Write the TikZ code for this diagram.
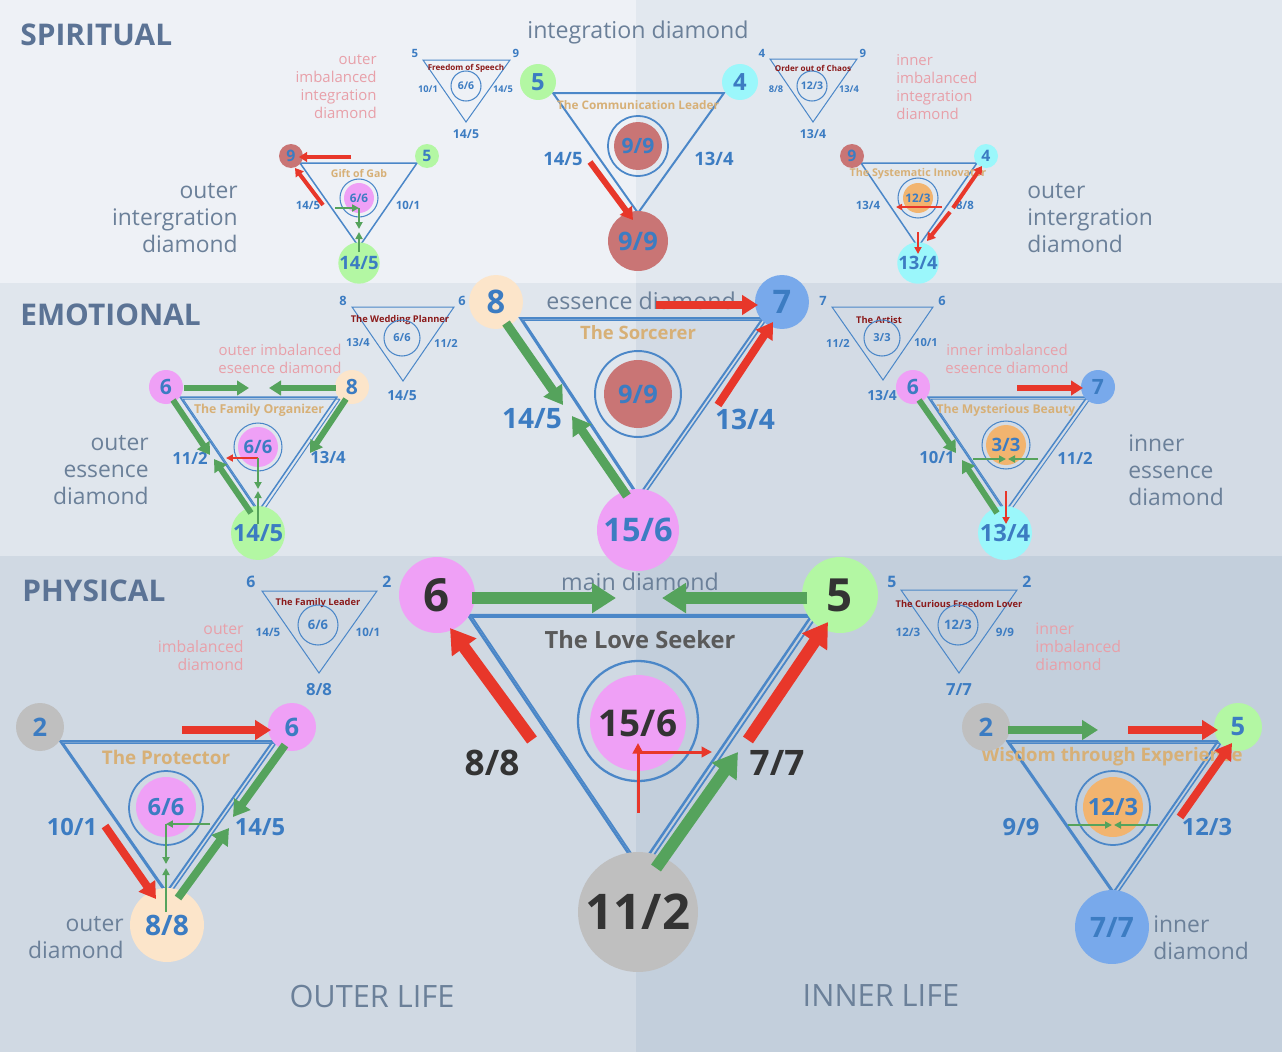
\documentclass[tikz,border=0pt]{standalone}
\usepackage{fontspec}
\setmainfont{Open Sans}
\usetikzlibrary{arrows.meta}

% background bands
\definecolor{bgSL}{HTML}{EEF1F6}
\definecolor{bgSR}{HTML}{E2E8EF}
\definecolor{bgEL}{HTML}{E0E6ED}
\definecolor{bgER}{HTML}{D3DBE5}
\definecolor{bgPL}{HTML}{D0D9E3}
\definecolor{bgPR}{HTML}{C3CFDC}
% texts and lines
\definecolor{cHead}{HTML}{5B7395}
\definecolor{cGrey}{HTML}{6B8099}
\definecolor{cPink}{HTML}{E8A0A9}
\definecolor{cTan}{HTML}{D7B077}
\definecolor{cTag}{HTML}{8B1A1A}
\definecolor{cBlue}{HTML}{3C7CC2}
\definecolor{cDark}{HTML}{333333}
\definecolor{cLove}{HTML}{5A5A5A}
\definecolor{cLine}{HTML}{4B87C8}
\definecolor{cRed}{HTML}{E8372A}
\definecolor{cGreen}{HTML}{55A35C}
% circle fills
\definecolor{fRed}{HTML}{C97575}
\definecolor{fGreen}{HTML}{B3F7A3}
\definecolor{fCyan}{HTML}{9BF7FB}
\definecolor{fPeach}{HTML}{FCE5CA}
\definecolor{fBlue}{HTML}{78A9EB}
\definecolor{fPink}{HTML}{EFA0F6}
\definecolor{fGrey}{HTML}{BFBFBF}
\definecolor{fOrange}{HTML}{F2B46F}

\newcommand\fsz[2]{\fontsize{#1pt}{#2pt}\selectfont}

\begin{document}
\begin{tikzpicture}[x=0.02cm, y=-0.02cm,
    ball/.style={circle, inner sep=0pt, minimum size=#1*0.04cm},
    hub/.style={circle, draw=cLine, line width=0.6pt, inner sep=0pt, minimum size=#1*0.04cm},
    num/.style={text=cBlue, inner sep=0pt, font=\bfseries\fsz{#1}{#1}},
    title/.style={text=cTan, inner sep=0pt, font=\bfseries\fsz{#1}{#1}},
    tag/.style={text=cTag, inner sep=0pt, font=\bfseries\fsz{#1}{#1}},
    zone/.style={text=cGrey, inner sep=0pt, font=\fsz{#1}{#1}},
    side/.style={text=cGrey, inner sep=0pt, font=\fsz{13}{15.3}},
    note/.style={text=cPink, inner sep=0pt, font=\fsz{8.5}{10.2}},
    head/.style={text=cHead, inner sep=0pt, anchor=west, font=\bfseries\fsz{17}{17}},
    tri/.style={draw=cLine, line width=#1*0.02cm},
    fat/.style={line width=#1*0.02cm, -{Triangle[length=0pt 2 0, width=0pt 2.4 0]}},
    slim/.style={line width=0.04cm, -{Triangle[length=0pt 3.5 0, width=0pt 3.5 0]}}
]
\useasboundingbox (0,0) rectangle (1282,1052);

% Bands
\fill[bgSL] (0,0) rectangle (636,283);
\fill[bgSR] (636,0) rectangle (1282,283);
\fill[bgEL] (0,283) rectangle (636,556);
\fill[bgER] (636,283) rectangle (1282,556);
\fill[bgPL] (0,556) rectangle (636,1052);
\fill[bgPR] (636,556) rectangle (1282,1052);

% Section headers
\node[head] (spirit) at (20,35) {SPIRITUAL};
\node[head] (emotion) at (20,315) {EMOTIONAL};
\node[head] (phys) at (22,591) {PHYSICAL};
\node[zone=13.2] (intLbl) at (638,32) {integration diamond};
\node[zone=13.2] (essLbl) at (641,301) {essence diamond};
\node[zone=13.2] (mainLbl) at (640,582) {main diamond};
\node[zone=17.5] (outerLife) at (372,996) {OUTER LIFE};
\node[zone=17.5] (innerLife) at (881,996) {INNER LIFE};

%%%%%%%%%%%%%%%% SPIRITUAL %%%%%%%%%%%%%%%%
% integration diamond
\draw[tri=2] (553,93) -- (724,93) -- (638,213) -- cycle;
\node[title=6.7] (smT) at (638,105) {The Communication Leader};
\node[hub=30, line width=1pt] (smHub) at (638,146) {};
\node[ball=24, fill=fRed, num=12] (smCore) at (638,146) {9/9};
\node[ball=18, fill=fGreen, num=13.5] (sm5) at (538,82) {5};
\node[ball=18, fill=fCyan, num=13.5] (sm4) at (740,82) {4};
\node[ball=30, fill=fRed, num=14.5] (sm99) at (638,241) {9/9};
\node[num=10.5] (smL) at (563,159) {14/5};
\node[num=10.5] (smR) at (714,159) {13/4};

% Freedom of Speech
\draw[tri=1] (423,60) -- (510,60) -- (466,122) -- cycle;
\node[num=6.5] (fs5) at (415,53) {5};
\node[num=6.5] (fs9) at (516,53) {9};
\node[tag=4.6] (fsT) at (466,68) {Freedom of Speech};
\node[hub=15] (fsHub) at (466,86) {};
\node[num=6] (fsCore) at (466,86) {6/6};
\node[num=5.3] (fsL) at (428,89) {10/1};
\node[num=5.3] (fsR) at (503,89) {14/5};
\node[num=7] (fsB) at (466,134) {14/5};
\node[note, anchor=east, align=right] (fsNote) at (377,87) {outer\\imbalanced\\integration\\diamond};

% outer integration diamond
\draw[tri=1.5] (300,163) -- (417,163) -- (359,247) -- cycle;
\node[title=6] (soT) at (359,174) {Gift of Gab};
\node[hub=19] (soHub) at (359,198) {};
\node[ball=15, fill=fPink, num=6.7] (soCore) at (359,198) {6/6};
\node[ball=12, fill=fRed, num=9] (so9) at (291,156) {9};
\node[ball=12, fill=fGreen, num=9] (so5) at (427,156) {5};
\node[ball=19, fill=fGreen, num=10.5] (so145) at (359,263) {14/5};
\node[num=6.5] (soL) at (308,205) {14/5};
\node[num=6.5] (soR) at (408,205) {10/1};
\node[side, anchor=east, align=right] (soSide) at (238,218) {outer\\intergration\\diamond};

% Order out of Chaos
\draw[tri=1] (770,59) -- (857,59) -- (813,122) -- cycle;
\node[num=6.5] (oc4) at (762,53) {4};
\node[num=6.5] (oc9) at (863,53) {9};
\node[tag=4.6] (ocT) at (813,68) {Order out of Chaos};
\node[hub=15] (ocHub) at (812,86) {};
\node[num=6] (ocCore) at (812,86) {12/3};
\node[num=5.3] (ocL) at (776,89) {8/8};
\node[num=5.3] (ocR) at (849,89) {13/4};
\node[num=7] (ocB) at (813,134) {13/4};
\node[note, anchor=west, align=left] (ocNote) at (896,87) {inner\\imbalanced\\integration\\diamond};

% inner integration diamond
\draw[tri=1.5] (861,163) -- (977,163) -- (918,247) -- cycle;
\node[title=6.1] (siT) at (918,174) {The Systematic Innovator};
\node[hub=20] (siHub) at (918,198) {};
\node[ball=15, fill=fOrange, num=6.7] (siCore) at (918,198) {12/3};
\node[ball=12, fill=fRed, num=9] (si9) at (852,156) {9};
\node[ball=12, fill=fCyan, num=9] (si4) at (986,156) {4};
\node[ball=19, fill=fCyan, num=10.5] (si134) at (918,263) {13/4};
\node[num=6.5] (siL) at (868,205) {13/4};
\node[num=6.5] (siR) at (965,205) {8/8};
\node[side, anchor=west, align=left] (siSide) at (1027,218) {outer\\intergration\\diamond};

%%%%%%%%%%%%%%%% EMOTIONAL %%%%%%%%%%%%%%%%
% essence diamond
\draw[tri=2] (520,318) -- (763,318) -- (638,497) -- cycle;
\draw[tri=1.5, shift={(3,2)}] (520,318) -- (763,318) -- (638,497) -- cycle;
\node[title=10.5] (emT) at (638,333) {The Sorcerer};
\node[hub=43, line width=1.1pt] (emHub) at (638,394) {};
\node[ball=34, fill=fRed, num=14.5] (emCore) at (638,394) {9/9};
\node[ball=27, fill=fPeach, num=18.5] (em8) at (496,302) {8};
\node[ball=27, fill=fBlue, num=18.5] (em7) at (782,302) {7};
\node[ball=41, fill=fPink, num=18.5] (em156) at (638,530) {15/6};
\node[num=16] (emL) at (532,419) {14/5};
\node[num=16] (emR) at (745,419) {13/4};

% The Wedding Planner
\draw[tri=1] (352,307) -- (454,307) -- (403,381) -- cycle;
\node[num=7.3] (wp8) at (343,301) {8};
\node[num=7.3] (wp6) at (462,301) {6};
\node[tag=5.3] (wpT) at (400,320) {The Wedding Planner};
\node[hub=18] (wpHub) at (402,338) {};
\node[num=6.3] (wpCore) at (402,338) {6/6};
\node[num=6.3] (wpL) at (358,343) {13/4};
\node[num=6.3] (wpR) at (446,343) {11/2};
\node[num=7.9] (wpB) at (402,396) {14/5};
\node[note, align=center] (wpNote) at (280,359) {outer imbalanced\\eseence diamond};

% outer essence diamond
\draw[tri=1.5] (180,397) -- (337,397) -- (258,512) -- cycle;
\draw[tri=1, shift={(3,2)}] (180,397) -- (337,397) -- (258,512) -- cycle;
\node[title=7] (eoT) at (259,410) {The Family Organizer};
\node[hub=24] (eoHub) at (258,447) {};
\node[ball=20, fill=fPink, num=10.5] (eoCore) at (258,447) {6/6};
\node[ball=17, fill=fPink, num=12] (eo6) at (166,387) {6};
\node[ball=17, fill=fPeach, num=12] (eo8) at (352,387) {8};
\node[ball=27, fill=fGreen, num=13.5] (eo145) at (258,533) {14/5};
\node[num=9.5] (eoL) at (190,458) {11/2};
\node[num=9.5] (eoR) at (328,458) {13/4};
\node[side, anchor=east, align=right] (eoSide) at (149,470) {outer\\essence\\diamond};

% The Artist
\draw[tri=1] (832,307) -- (933,307) -- (883,380) -- cycle;
\node[num=7.3] (ar7) at (823,301) {7};
\node[num=7.3] (ar6) at (942,301) {6};
\node[tag=5.3] (arT) at (879,320) {The Artist};
\node[hub=18] (arHub) at (882,338) {};
\node[num=6.3] (arCore) at (882,338) {3/3};
\node[num=6.3] (arL) at (838,343) {11/2};
\node[num=6.3] (arR) at (926,343) {10/1};
\node[num=7.9] (arB) at (882,396) {13/4};
\node[note, align=center] (arNote) at (1007,359) {inner imbalanced\\eseence diamond};

% inner essence diamond
\draw[tri=1.5] (928,397) -- (1087,397) -- (1005,512) -- cycle;
\draw[tri=1, shift={(3,2)}] (928,397) -- (1087,397) -- (1005,512) -- cycle;
\node[title=6.9] (eiT) at (1006,410) {The Mysterious Beauty};
\node[hub=24] (eiHub) at (1006,445) {};
\node[ball=20, fill=fOrange, num=10.5] (eiCore) at (1006,445) {3/3};
\node[ball=17, fill=fPink, num=12] (ei6) at (913,387) {6};
\node[ball=17, fill=fBlue, num=12] (ei7) at (1098,387) {7};
\node[ball=27, fill=fCyan, num=13.5] (ei134) at (1005,533) {13/4};
\node[num=9.5] (eiL) at (937,458) {10/1};
\node[num=9.5] (eiR) at (1075,458) {11/2};
\node[side, anchor=west, align=left] (eiSide) at (1128,470) {inner\\essence\\diamond};

%%%%%%%%%%%%%%%% PHYSICAL %%%%%%%%%%%%%%%%
% main diamond
\draw[tri=2.5] (468,615) -- (812,615) -- (639,869) -- cycle;
\draw[tri=1.8, shift={(4,2)}] (468,615) -- (812,615) -- (639,869) -- cycle;
\node[text=cLove, inner sep=0pt, font=\bfseries\fsz{13.5}{13.5}] (pmT) at (640,640) {The Love Seeker};
\node[hub=60, line width=1.3pt] (pmHub) at (638,721) {};
\node[ball=48, fill=fPink, num=21, text=cDark] (pmCore) at (638,723) {15/6};
\node[ball=38, fill=fPink, num=26, text=cDark] (pm6) at (437,595) {6};
\node[ball=38, fill=fGreen, num=26, text=cDark] (pm5) at (840,595) {5};
\node[ball=60, fill=fGrey, num=28, text=cDark] (pm112) at (638,912) {11/2};
\node[num=20, text=cDark] (pmL) at (492,763) {8/8};
\node[num=20, text=cDark] (pmR) at (777,763) {7/7};

% The Family Leader
\draw[tri=1] (262,591) -- (377,591) -- (319,673) -- cycle;
\node[num=9] (fl6) at (251,582) {6};
\node[num=9] (fl2) at (387,582) {2};
\node[tag=5.3] (flT) at (318,603) {The Family Leader};
\node[hub=20] (flHub) at (318,625) {};
\node[num=7.4] (flCore) at (318,625) {6/6};
\node[num=6.6] (flL) at (268,632) {14/5};
\node[num=6.6] (flR) at (368,632) {10/1};
\node[num=9.5] (flB) at (319,690) {8/8};
\node[note, anchor=east, align=right, font=\fsz{9}{10.2}] (flNote) at (244,647) {outer\\imbalanced\\diamond};

% outer diamond
\draw[tri=2] (60,741) -- (273,741) -- (166,893) -- cycle;
\draw[tri=1.5, shift={(3,2)}] (60,741) -- (273,741) -- (166,893) -- cycle;
\node[title=10.7] (poT) at (166,757) {The Protector};
\node[hub=37, line width=1pt] (poHub) at (166,808) {};
\node[ball=30, fill=fPink, num=13.5] (poCore) at (166,807) {6/6};
\node[ball=24, fill=fGrey, num=14.5] (po2) at (40,727) {2};
\node[ball=24, fill=fPink, num=14.5] (po6) at (292,727) {6};
\node[ball=37, fill=fPeach, num=16] (po88) at (167,925) {8/8};
\node[num=13.5] (poL) at (72,827) {10/1};
\node[num=13.5] (poR) at (260,827) {14/5};
\node[side, anchor=east, align=right] (poSide) at (124,938) {outer\\diamond};

% The Curious Freedom Lover
\draw[tri=1] (901,590) -- (1017,590) -- (959,673) -- cycle;
\node[num=9] (cf5) at (892,582) {5};
\node[num=9] (cf2) at (1027,582) {2};
\node[tag=5.3] (cfT) at (959,604) {The Curious Freedom Lover};
\node[hub=20] (cfHub) at (958,625) {};
\node[num=7.4] (cfCore) at (958,625) {12/3};
\node[num=6.6] (cfL) at (908,632) {12/3};
\node[num=6.6] (cfR) at (1005,632) {9/9};
\node[num=9.5] (cfB) at (959,690) {7/7};
\node[note, anchor=west, align=left, font=\fsz{9}{10.2}] (cfNote) at (1035,647) {inner\\imbalanced\\diamond};

% inner diamond
\draw[tri=2] (1007,741) -- (1218,741) -- (1113,893) -- cycle;
\draw[tri=1.5, shift={(3,2)}] (1007,741) -- (1218,741) -- (1113,893) -- cycle;
\node[title=10.6] (piT) at (1112,757) {Wisdom through Experience};
\node[hub=37, line width=1pt] (piHub) at (1113,808) {};
\node[ball=30, fill=fOrange, num=13.5] (piCore) at (1113,807) {12/3};
\node[ball=24, fill=fGrey, num=14.5] (pi2) at (986,727) {2};
\node[ball=24, fill=fGreen, num=14.5] (pi5) at (1238,727) {5};
\node[ball=37, fill=fBlue, num=16] (pi77) at (1112,927) {7/7};
\node[num=13.5] (piL) at (1021,827) {9/9};
\node[num=13.5] (piR) at (1207,827) {12/3};
\node[side, anchor=west, align=left] (piSide) at (1153,938) {inner\\diamond};

%%%%%%%%%%%%%%%% ARROWS %%%%%%%%%%%%%%%%
% spiritual
\coordinate (smRa) at (590,162); \coordinate (smRb) at (633,220);
\draw[fat=6, cRed] (smRa) -- (smRb);
\coordinate (soR1a) at (351,157); \coordinate (soR1b) at (299,157);
\coordinate (soR2a) at (323,205); \coordinate (soR2b) at (295,168);
\coordinate (soG1a) at (335,208); \coordinate (soG1b) at (359,208);
\coordinate (soG2b) at (359,229);
\coordinate (soG3a) at (359,252); \coordinate (soG3b) at (359,232);
\draw[fat=4, cRed] (soR1a) -- (soR1b);
\draw[fat=4, cRed] (soR2a) -- (soR2b);
\draw[slim, cGreen] (soG1a) -- (soG1b);
\draw[slim, cGreen] (soG1b) -- (soG2b);
\draw[slim, cGreen] (soG3a) -- (soG3b);
\coordinate (siR1a) at (953,208); \coordinate (siR1b) at (982,166);
\coordinate (siR2a) at (950,212); \coordinate (siR2b) at (927,241);
\coordinate (siR3a) at (896,207); \coordinate (siR3b) at (942,207);
\coordinate (siR4a) at (918,232); \coordinate (siR4b) at (918,254);
\draw[fat=4, cRed] (siR1a) -- (siR1b);
\draw[fat=4, cRed] (siR2a) -- (siR2b);
\draw[slim, cRed, {Triangle[length=0pt 3 0, width=0pt 3 0]}-] (siR3a) -- (siR3b);
\draw[slim, cRed] (siR4a) -- (siR4b);

% emotional
\coordinate (emR1a) at (656,305); \coordinate (emR1b) at (758,305);
\coordinate (emG1a) at (506,323); \coordinate (emG1b) at (563,405);
\coordinate (emG2a) at (627,496); \coordinate (emG2b) at (572,416);
\coordinate (emR2a) at (718,405); \coordinate (emR2b) at (773,322);
\draw[fat=8, cRed] (emR1a) -- (emR1b);
\draw[fat=9, cGreen] (emG1a) -- (emG1b);
\draw[fat=9, cGreen] (emG2a) -- (emG2b);
\draw[fat=8, cRed] (emR2a) -- (emR2b);
\coordinate (eoG1a) at (184,388); \coordinate (eoG1b) at (249,388);
\coordinate (eoG2a) at (336,388); \coordinate (eoG2b) at (269,388);
\coordinate (eoG3a) at (173,400); \coordinate (eoG3b) at (210,455);
\coordinate (eoG4a) at (251,513); \coordinate (eoG4b) at (214,459);
\coordinate (eoG5a) at (346,399); \coordinate (eoG5b) at (310,453);
\coordinate (eoRa) at (258,458); \coordinate (eoRb) at (226,458);
\coordinate (eoG6b) at (258,489);
\coordinate (eoG7a) at (258,524); \coordinate (eoG7b) at (258,491);
\draw[fat=6, cGreen] (eoG1a) -- (eoG1b);
\draw[fat=6, cGreen] (eoG2a) -- (eoG2b);
\draw[fat=6, cGreen] (eoG3a) -- (eoG3b);
\draw[fat=6, cGreen] (eoG4a) -- (eoG4b);
\draw[fat=6, cGreen] (eoG5a) -- (eoG5b);
\draw[slim, cRed] (eoRa) -- (eoRb);
\draw[slim, cGreen] (eoRa) -- (eoG6b);
\draw[slim, cGreen] (eoG7a) -- (eoG7b);
\coordinate (eiR1a) at (1017,388); \coordinate (eiR1b) at (1083,388);
\coordinate (eiG1a) at (919,400); \coordinate (eiG1b) at (956,453);
\coordinate (eiG2a) at (997,513); \coordinate (eiG2b) at (962,460);
\coordinate (eiG3a) at (973,459); \coordinate (eiG3b) at (1006,459);
\coordinate (eiG4a) at (1038,459); \coordinate (eiG4b) at (1008,459);
\coordinate (eiR2a) at (1006,491); \coordinate (eiR2b) at (1006,524);
\draw[fat=6, cRed] (eiR1a) -- (eiR1b);
\draw[fat=6, cGreen] (eiG1a) -- (eiG1b);
\draw[fat=6, cGreen] (eiG2a) -- (eiG2b);
\draw[slim, cGreen] (eiG3a) -- (eiG3b);
\draw[slim, cGreen] (eiG4a) -- (eiG4b);
\draw[slim, cRed] (eiR2a) -- (eiR2b);

% physical
\coordinate (pmR1a) at (532,740); \coordinate (pmR1b) at (450,628);
\coordinate (pmR2a) at (748,740); \coordinate (pmR2b) at (828,622);
\coordinate (pmG1a) at (656,868); \coordinate (pmG1b) at (738,752);
\coordinate (pmG2a) at (472,598); \coordinate (pmG2b) at (616,598);
\coordinate (pmG3a) at (807,598); \coordinate (pmG3b) at (662,598);
\coordinate (pmR3a) at (638,813); \coordinate (pmR3b) at (638,743);
\coordinate (pmR4a) at (638,752); \coordinate (pmR4b) at (712,752);
\draw[fat=12, cRed] (pmR1a) -- (pmR1b);
\draw[fat=12, cRed] (pmR2a) -- (pmR2b);
\draw[fat=12, cGreen] (pmG1a) -- (pmG1b);
\draw[fat=12, cGreen] (pmG2a) -- (pmG2b);
\draw[fat=12, cGreen] (pmG3a) -- (pmG3b);
\draw[slim, line width=0.06cm, cRed] (pmR3a) -- (pmR3b);
\draw[slim, line width=0.06cm, cRed] (pmR4a) -- (pmR4b);
\coordinate (poR1a) at (182,730); \coordinate (poR1b) at (271,730);
\coordinate (poG1a) at (285,745); \coordinate (poG1b) at (233,817);
\coordinate (poR2a) at (105,826); \coordinate (poR2b) at (156,899);
\coordinate (poG2a) at (178,898); \coordinate (poG2b) at (229,828);
\coordinate (poG3a) at (210,824); \coordinate (poG3b) at (166,824);
\coordinate (poG4b) at (166,864);
\coordinate (poG5a) at (166,912); \coordinate (poG5b) at (166,868);
\draw[fat=8, cRed] (poR1a) -- (poR1b);
\draw[fat=8, cGreen] (poG1a) -- (poG1b);
\draw[fat=8, cRed] (poR2a) -- (poR2b);
\draw[fat=8, cGreen] (poG2a) -- (poG2b);
\draw[slim, cGreen] (poG3a) -- (poG3b);
\draw[slim, cGreen] (poG3b) -- (poG4b);
\draw[slim, cGreen] (poG5a) -- (poG5b);
\coordinate (piG1a) at (1008,730); \coordinate (piG1b) at (1098,730);
\coordinate (piR1a) at (1128,730); \coordinate (piR1b) at (1218,730);
\coordinate (piR2a) at (1180,817); \coordinate (piR2b) at (1232,743);
\coordinate (piG2a) at (1068,825); \coordinate (piG2b) at (1112,825);
\coordinate (piG3a) at (1158,825); \coordinate (piG3b) at (1114,825);
\draw[fat=8, cGreen] (piG1a) -- (piG1b);
\draw[fat=8, cRed] (piR1a) -- (piR1b);
\draw[fat=8, cRed] (piR2a) -- (piR2b);
\draw[slim, cGreen] (piG2a) -- (piG2b);
\draw[slim, cGreen] (piG3a) -- (piG3b);

\end{tikzpicture}
\end{document}
